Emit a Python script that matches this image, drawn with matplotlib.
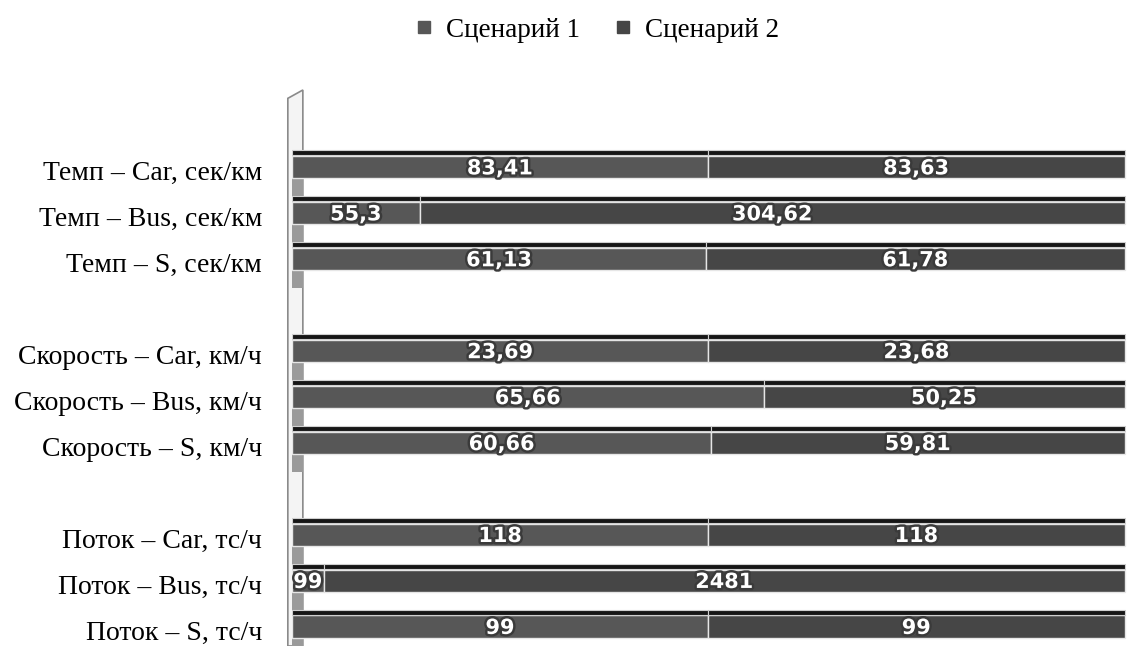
import numpy as np
import matplotlib.pyplot as plt
import matplotlib.patheffects as pe
from matplotlib.patches import Polygon, Rectangle
from matplotlib.lines import Line2D

# categories top -> bottom, blank strings are the gaps between groups
categories = ["Темп – Car, сек/км", "Темп – Bus, сек/км", "Темп – S, сек/км", "",
              "Скорость – Car, км/ч", "Скорость – Bus, км/ч", "Скорость – S, км/ч", "",
              "Поток – Car, тс/ч", "Поток – Bus, тс/ч", "Поток – S, тс/ч"]
scen1 = [83.41, 55.3, 61.13, np.nan, 23.69, 65.66, 60.66, np.nan, 118, 99, 99]
scen2 = [83.63, 304.62, 61.78, np.nan, 23.68, 50.25, 59.81, np.nan, 118, 2481, 99]
series_names = ["Сценарий 1", "Сценарий 2"]

col1 = "#575757"
col2 = "#464646"
top_col = "#161616"

plt.rcParams['font.family'] = ['Liberation Serif', 'DejaVu Serif']

fig = plt.figure(figsize=(11.27, 6.46), dpi=100)
ax = fig.add_axes([292 / 1127, 0, 1 - 292 / 1127, 556 / 646])

s1 = np.array(scen1, dtype=float)
s2 = np.array(scen2, dtype=float)
tot = s1 + s2
p1 = s1 / tot
p2 = s2 / tot
y = np.arange(len(categories))
ok = ~np.isnan(tot)

h = 0.48
th = 0.11
for p_left, p_w, c in [(np.zeros_like(p1), p1, col1), (p1, p2, col2)]:
    ax.barh(y[ok], p_w[ok], left=p_left[ok], height=h, color=c,
            edgecolor="#e6e6e6", linewidth=1.0, zorder=3)
    # thin dark top face for the 3D look
    ax.barh(y[ok] - h / 2 - th / 2 - 0.02, p_w[ok], left=p_left[ok], height=th,
            color=top_col, edgecolor="#cfcfcf", linewidth=0.8, zorder=3)

def fmt(v):
    return f"{v:g}".replace(".", ",")

effects = [pe.withSimplePatchShadow(offset=(1.5, -1.5), shadow_rgbFace="#555555", alpha=0.8),
           pe.withStroke(linewidth=3.5, foreground="#3a3a3a")]
for i in y[ok]:
    for left, w, v in [(0, p1[i], s1[i]), (p1[i], p2[i], s2[i])]:
        ax.text(left + w / 2, i + 0.03, fmt(v), ha="center", va="center",
                color="white", fontsize=15, fontweight="bold",
                family="DejaVu Sans", path_effects=effects, zorder=5)

ax.set_xlim(0, 1.003)
ax.set_ylim(10.424, -1.676)
ax.set_yticks(y + 0.08)
ax.set_yticklabels(categories, fontsize=20)
ax.tick_params(axis="y", length=0, pad=21.5)
ax.set_xticks([])
for sp in ax.spines.values():
    sp.set_visible(False)

# left wall of the 3D frame
wall = Polygon([(-0.005, 0.0), (-0.005, 0.985), (0.013, 1.0), (0.013, 0.0)],
               closed=True, transform=ax.transAxes, clip_on=False,
               facecolor="#f4f4f4", edgecolor="#8a8a8a", linewidth=1.2, zorder=1)
ax.add_patch(wall)
for i in y[ok]:
    ax.add_patch(Rectangle((0, i + h / 2), 0.013, 1 - h - th - 0.02,
                           facecolor="#9a9a9a", edgecolor="none", zorder=2))

handles = [Line2D([], [], marker="s", linestyle="none", markersize=8,
                  color=c) for c in (col1, col2)]
fig.legend(handles, series_names, loc="upper center", bbox_to_anchor=(0.522, 1.01),
           ncol=2, frameon=False, fontsize=19.5, handletextpad=-0.2, columnspacing=0.6)

fig.savefig("out.png", dpi=100)
